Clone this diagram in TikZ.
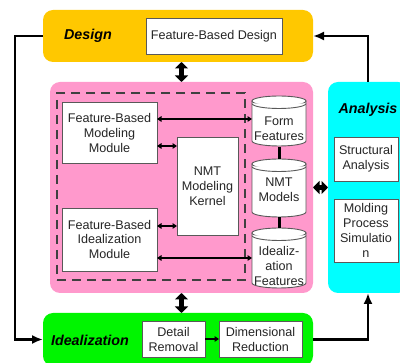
\documentclass[tikz,border=0pt]{standalone}
\usepackage{fontspec}
\setmainfont{Liberation Sans}
\usetikzlibrary{arrows.meta}
\definecolor{cdesign}{RGB}{255,200,0}
\definecolor{cpink}{RGB}{255,153,204}
\definecolor{ccyan}{RGB}{0,255,255}
\definecolor{cgreen}{RGB}{0,245,0}
\newcommand\dbcyl[3]{%
  \filldraw[cylline] (#1-27,#2) -- (#1-27,#3) arc[start angle=180,end angle=360,x radius=27pt,y radius=5pt] -- (#1+27,#2) -- cycle;
  \filldraw[cylline] (#1,#2) ellipse[x radius=27pt,y radius=5pt];
  \draw[cylline] (#1-27,#2+2.5) arc[start angle=180,end angle=360,x radius=27pt,y radius=5pt];
}
\begin{document}
\begin{tikzpicture}[x=1pt,y=-1pt,
  stage/.style={anchor=north west, inner sep=0pt, outer sep=0pt, rounded corners=10pt},
  box/.style={anchor=north west, inner sep=0pt, outer sep=0pt, draw=black!65, line width=0.9pt, fill=white, align=center, font=\fontsize{12.6}{15}\selectfont, text=black!85},
  cylline/.style={draw=black!65, line width=0.9pt, fill=white},
  cyltext/.style={align=center, inner sep=0pt, font=\fontsize{12.6}{15}\selectfont, text=black!85},
  area/.style={anchor=north west, inner sep=0pt, outer sep=0pt, minimum width=54pt},
  title/.style={font=\fontsize{14.3}{16}\selectfont\bfseries\itshape},
  bigline/.style={line width=2.2pt, -{Latex[length=11pt,width=9pt]}},
  fatarrow/.style={line width=4.5pt, {Triangle[width=13pt,length=6.5pt]}-{Triangle[width=13pt,length=6.5pt]}},
  dblthin/.style={line width=1.2pt, {Triangle[width=5.5pt,length=4.5pt]}-{Triangle[width=5.5pt,length=4.5pt]}},
  link/.style={line width=3pt},
]
\useasboundingbox (0,0) rectangle (400,363);

% stages
\node[stage, fill=cdesign, minimum width=270pt, minimum height=52pt] (design) at (43,10) {};
\node[title] (designt) at (88,36) {Design};
\node[box, minimum width=136pt, minimum height=36pt] (fbd) at (146,18) {Feature-Based Design};

\node[stage, fill=cpink, minimum width=263pt, minimum height=211pt] (pink) at (50,82) {};
\node[anchor=north west, inner sep=0pt, outer sep=0pt, draw=black!75, line width=1.2pt, dash pattern=on 9pt off 6pt, minimum width=188pt, minimum height=187pt] (dash) at (57,93) {};

\node[stage, fill=ccyan, minimum width=80pt, minimum height=211pt] (analysis) at (328,82) {};
\node[title] (analysist) at (368,110) {Analysis};
\node[box, minimum width=64pt, minimum height=44pt] (struct) at (334,137) {Structural\\Analysis};
\node[box, minimum width=64pt, minimum height=63pt] (mold) at (334,199) {Molding\\Process\\Simulatio\\n};

\node[stage, fill=cgreen, minimum width=270pt, minimum height=53pt] (ideal) at (43,313) {};
\node[title] (idealt) at (90,340) {Idealization};
\node[box, minimum width=63pt, minimum height=36pt] (detail) at (142,321) {Detail\\Removal};
\node[box, minimum width=83pt, minimum height=36pt] (dim) at (219,321) {Dimensional\\Reduction};

% modules
\node[box, minimum width=95pt, minimum height=61pt] (fbmm) at (62,102) {Feature-Based\\Modeling\\Module};
\node[box, minimum width=95pt, minimum height=63pt] (fbim) at (62,208) {Feature-Based\\Idealization\\Module};
\node[box, minimum width=61pt, minimum height=98pt] (kernel) at (177,137) {NMT\\Modeling\\Kernel};

% cylinders
\dbcyl{279}{101}{141}
\dbcyl{279}{164}{212}
\dbcyl{279}{233}{283}
\node[area, minimum height=51pt] (form) at (252,96) {};
\node[area, minimum height=58pt] (nmt) at (252,159) {};
\node[area, minimum height=60pt] (idf) at (252,228) {};
\node[cyltext] (formt) at (279,128.5) {Form\\Features};
\node[cyltext] (nmtt) at (279,190) {NMT\\Models};
\node[cyltext] (idft) at (279,266) {Idealiz-\\ation\\Features};

\draw[link] (form.south) -- (nmt.north);
\draw[link] (nmt.south) -- (idf.north);

% inner arrows
\draw[dblthin] ([yshift=13.5pt]fbmm.east) -- ([yshift=13.5pt]fbmm.east -| form.west);
\draw[dblthin] ([yshift=-13.5pt]fbmm.east) -- ([yshift=-13.5pt]fbmm.east -| kernel.west);
\draw[dblthin] ([yshift=13.5pt]fbim.east) -- ([yshift=13.5pt]fbim.east -| kernel.west);
\draw[dblthin] ([yshift=-18.5pt]fbim.east) -- ([yshift=-18.5pt]fbim.east -| idf.west);
\draw[line width=1.2pt, -{Triangle[width=5.5pt,length=4.5pt]}] (detail.east) -- (dim.west);

% fat double arrows
\draw[fatarrow] (pink.north) -- (pink.north |- design.south);
\draw[fatarrow] (pink.south) -- (pink.south |- ideal.north);
\draw[fatarrow] (pink.east) -- (analysis.west);

% outer flow
\draw[bigline] (design.west) -- ++(-28,0) |- (ideal.west);
\draw[bigline] (analysis.north) |- (design.east);
\draw[bigline] (ideal.east) -| (analysis.south);
\end{tikzpicture}
\end{document}
